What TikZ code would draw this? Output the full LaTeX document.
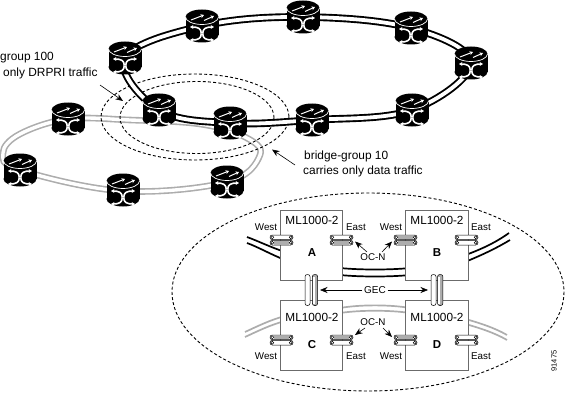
\documentclass[tikz,border=0pt]{standalone}
\usepackage{fontspec}
\setmainfont{Liberation Sans}
\usetikzlibrary{arrows.meta}
\definecolor{ringgray}{gray}{0.68}
\definecolor{boxgray}{gray}{0.42}
\tikzset{
  lbl/.style={inner sep=0pt,font=\fontsize{11.9}{13}\selectfont},
  small/.style={inner sep=0pt,font=\fontsize{9.8}{11}\selectfont},
  mltxt/.style={inner sep=0pt,font=\fontsize{11.8}{13}\selectfont},
  letter/.style={inner sep=0pt,font=\fontsize{11.5}{13}\selectfont\bfseries},
  zone/.style={dash pattern=on 3pt off 2.2pt,line width=0.9pt,black},
  note/.style={line width=0.6pt,-{Stealth[length=7.5pt,width=6pt]}},
  tiny tip/.style={-{Stealth[length=3.4pt,width=4pt]}},
  box/.style={draw=boxgray,fill=white,line width=0.9pt},
  router/.pic={
    \fill[black] (-16.5,-9) rectangle (16.5,9);
    \fill[black] (0,-9) ellipse [x radius=16.5,y radius=7.5];
    \fill[black] (0,9) ellipse [x radius=16.5,y radius=7.5];
    \draw[white,line width=0.7pt] (-16.5,-9) .. controls (-16.5,-5) and (-9,-1.5) .. (0,-1.5) .. controls (9,-1.5) and (16.5,-5) .. (16.5,-9);
    \draw[white,line width=1pt,tiny tip] (-11,-6) -- (2,-11);
    \draw[white,line width=1pt,tiny tip] (2,-5.5) -- (12,-10);
    \draw[white,line width=1.6pt,tiny tip] (-0.7,7.5) .. controls (-0.7,2.5) and (-4,1) .. (-12,1);
    \draw[white,line width=1.6pt,tiny tip] (-0.7,7.5) .. controls (-0.7,12.5) and (-4,14) .. (-12,14);
    \draw[white,line width=1.6pt,tiny tip] (0.7,7.5) .. controls (0.7,2.5) and (4,1) .. (12,1);
    \draw[white,line width=1.6pt,tiny tip] (0.7,7.5) .. controls (0.7,12.5) and (4,14) .. (12,14);
  },
  capsule/.pic={
    \draw[black,line width=0.5pt,fill=white,rounded corners=2.2pt] (0,0) rectangle (23,4.6);
    \draw[black,line width=0.5pt,fill=white] (2.3,2.3) circle (1.5);
    \draw[black,line width=0.5pt,fill=white] (20.7,2.3) circle (1.5);
  },
  capsuleg/.pic={
    \draw[black,line width=0.5pt,fill=white,rounded corners=2.2pt] (0,0) rectangle (23,4.6);
    \fill[ringgray] (4,0.5) rectangle (19,4.1);
    \draw[black,line width=0.5pt,fill=white] (2.3,2.3) circle (1.5);
    \draw[black,line width=0.5pt,fill=white] (20.7,2.3) circle (1.5);
  },
  vcapsule/.pic={
    \draw[black,line width=0.5pt,fill=white,rounded corners=2.2pt] (0,0) rectangle (5,31);
  },
  vcapsuleg/.pic={
    \draw[black,line width=0.5pt,fill=ringgray,rounded corners=2.2pt] (0,0) rectangle (5.4,31);
    \fill[white] (0.6,2) rectangle (2.4,29);
  },
}
\newcommand{\portpair}[4]{%
  \pic at (#1,#2) {#3};
  \pic at (#1,#2+5.4) {#4};
}
\begin{document}
\begin{tikzpicture}[x=1pt,y=-1pt]
\useasboundingbox (0,0) rectangle (576,420);
% router positions
\coordinate (t1) at (125,58);
\coordinate (t2) at (202,26);
\coordinate (t3) at (303,17);
\coordinate (t4) at (411,28);
\coordinate (t5) at (471,63);
\coordinate (t6) at (412,110);
\coordinate (t7) at (312,120);
\coordinate (t8) at (230,123);
\coordinate (t9) at (159,110);
\coordinate (g1) at (68,119);
\coordinate (g2) at (20,170);
\coordinate (g3) at (123,190);
\coordinate (g4) at (227,182);
% gray ring
\foreach \w/\c in {6.6/ringgray,3.4/white}
  \draw[line width=\w pt,\c] plot[smooth cycle,tension=0.62] coordinates
    {(g1) (130,120) (200,124) (245,137) (260,155) (g4) (123,191) (g2) (3,153) (20,134)};
% dashed zones
\draw[zone] (195,117) ellipse [x radius=94,y radius=43];
\draw[zone] (197,117.5) ellipse [x radius=77,y radius=36];
% black ring
\foreach \w/\c in {7.6/black,3.8/white}
  \draw[line width=\w pt,\c] plot[smooth cycle,tension=0.62] coordinates
    {(t1) (t2) (t3) (t4) (t5) (t6) (t7) (t8) (t9)};
% routers
\foreach \r in {t1,t2,t3,t4,t5,t6,t7,t8,t9,g1,g2,g3,g4}
  \pic at (\r) {router};
% upper labels
\node[lbl,anchor=west] (lg) at (0,58) {group 100};
\node[lbl,anchor=west] (ld) at (3,73) {only DRPRI traffic};
\node[lbl,anchor=west] (lb) at (304,156) {bridge-group 10};
\node[lbl,anchor=west] (lc) at (303,171) {carries only data traffic};
\coordinate (a1s) at (100,85);
\coordinate (a1e) at (123,101);
\coordinate (a2s) at (295,165);
\coordinate (a2e) at (272,149.5);
\draw[note] (a1s) -- (a1e);
\draw[note] (a2s) -- (a2e);
% big zone
\draw[zone] (368,292) ellipse [x radius=196,y radius=99];
% lower black lines
\coordinate (ka1) at (247,237); \coordinate (ka2) at (285,252);
\coordinate (kb1) at (247,243); \coordinate (kb2) at (285,260);
\coordinate (kc1) at (340,268); \coordinate (kc2) at (410,268);
\coordinate (kd1) at (340,275); \coordinate (kd2) at (410,275);
\coordinate (ke1) at (460,257); \coordinate (ke2) at (509,233);
\coordinate (kf1) at (460,264); \coordinate (kf2) at (510,240);
\draw[black,line width=1.7pt] (ka1) .. controls (258,241) and (270,247) .. (ka2);
\draw[black,line width=1.7pt] (kb1) .. controls (258,247) and (270,254) .. (kb2);
\draw[black,line width=1.7pt] (kc1) .. controls (360,270) and (390,270) .. (kc2);
\draw[black,line width=1.7pt] (kd1) .. controls (360,277) and (390,277) .. (kd2);
\draw[black,line width=1.7pt] (ke1) .. controls (480,250) and (495,243) .. (ke2);
\draw[black,line width=1.7pt] (kf1) .. controls (480,256) and (495,249) .. (kf2);
% lower gray lines
\coordinate (ga1) at (245,332); \coordinate (ga2) at (285,316);
\coordinate (gb1) at (245,337); \coordinate (gb2) at (285,321);
\coordinate (gc1) at (340,308); \coordinate (gc2) at (410,308);
\coordinate (gd1) at (340,313); \coordinate (gd2) at (410,313);
\coordinate (ge1) at (462,318); \coordinate (ge2) at (507,335);
\coordinate (gf1) at (462,323); \coordinate (gf2) at (507,340);
\draw[ringgray,line width=1.7pt] (ga1) .. controls (258,326) and (270,320) .. (ga2);
\draw[ringgray,line width=1.7pt] (gb1) .. controls (258,331) and (270,325) .. (gb2);
\draw[ringgray,line width=1.7pt] (gc1) .. controls (360,304.5) and (390,304.5) .. (gc2);
\draw[ringgray,line width=1.7pt] (gd1) .. controls (360,310) and (390,310) .. (gd2);
\draw[ringgray,line width=1.7pt] (ge1) .. controls (480,323) and (495,328) .. (ge2);
\draw[ringgray,line width=1.7pt] (gf1) .. controls (480,328) and (495,333) .. (gf2);
% boxes
\node[box,minimum width=62pt,minimum height=70pt,inner sep=0pt,anchor=north west] (A) at (280,210) {};
\node[box,minimum width=63pt,minimum height=70pt,inner sep=0pt,anchor=north west] (B) at (405,210) {};
\node[box,minimum width=62pt,minimum height=70pt,inner sep=0pt,anchor=north west] (C) at (280,300) {};
\node[box,minimum width=63pt,minimum height=70pt,inner sep=0pt,anchor=north west] (D) at (405,300) {};
\node[mltxt] (mla) at (312,220) {ML1000-2};
\node[mltxt] (mlb) at (437,220) {ML1000-2};
\node[mltxt] (mlc) at (312,317) {ML1000-2};
\node[mltxt] (mld) at (437,317) {ML1000-2};
\node[letter] (la) at (312,253) {A};
\node[letter] (lB) at (437,253) {B};
\node[letter] (lC) at (312,345) {C};
\node[letter] (lD) at (437,345) {D};
% ports
\portpair{270}{235}{capsule}{capsuleg}
\portpair{330}{235}{capsule}{capsuleg}
\portpair{394}{235}{capsuleg}{capsuleg}
\portpair{455}{235}{capsule}{capsule}
\portpair{270}{335}{capsuleg}{capsule}
\portpair{330}{335}{capsuleg}{capsule}
\portpair{394}{335}{capsuleg}{capsule}
\portpair{455}{335}{capsule}{capsule}
% GEC capsules
\pic at (305,274.5) {vcapsule};
\pic at (312.3,274.5) {vcapsuleg};
\pic at (431,274.5) {vcapsule};
\pic at (437.5,274.5) {vcapsuleg};
% small labels
\node[small] (w1) at (266,227) {West};
\node[small] (e1) at (356,227) {East};
\node[small] (w2) at (391,227) {West};
\node[small] (e2) at (481,227) {East};
\node[small] (w3) at (266,356) {West};
\node[small] (e3) at (356,356) {East};
\node[small] (w4) at (391,356) {West};
\node[small] (e4) at (481,356) {East};
\node[small] (oc1) at (373,257) {OC-N};
\node[small] (oc2) at (373,322) {OC-N};
\node[small,font=\fontsize{10}{11}\selectfont] (gec) at (375,290) {GEC};
\coordinate (oa) at (355,241.5);
\coordinate (ob) at (392,241.5);
\coordinate (oc) at (355,335);
\coordinate (od) at (392,337);
\coordinate (ga) at (320,290);
\coordinate (gb) at (428,290);
\draw[note] (367,252) -- (oa);
\draw[note] (382,252) -- (ob);
\draw[note] (365,328) -- (oc);
\draw[note] (383,328) -- (od);
\draw[note] (gec.west) ++(-1.5,0) -- (ga);
\draw[note] (gec.east) ++(1.5,0) -- (gb);
\node[inner sep=0pt,rotate=90,font=\fontsize{7.5}{9}\selectfont] (num) at (554,361) {91475};
\end{tikzpicture}
\end{document}
